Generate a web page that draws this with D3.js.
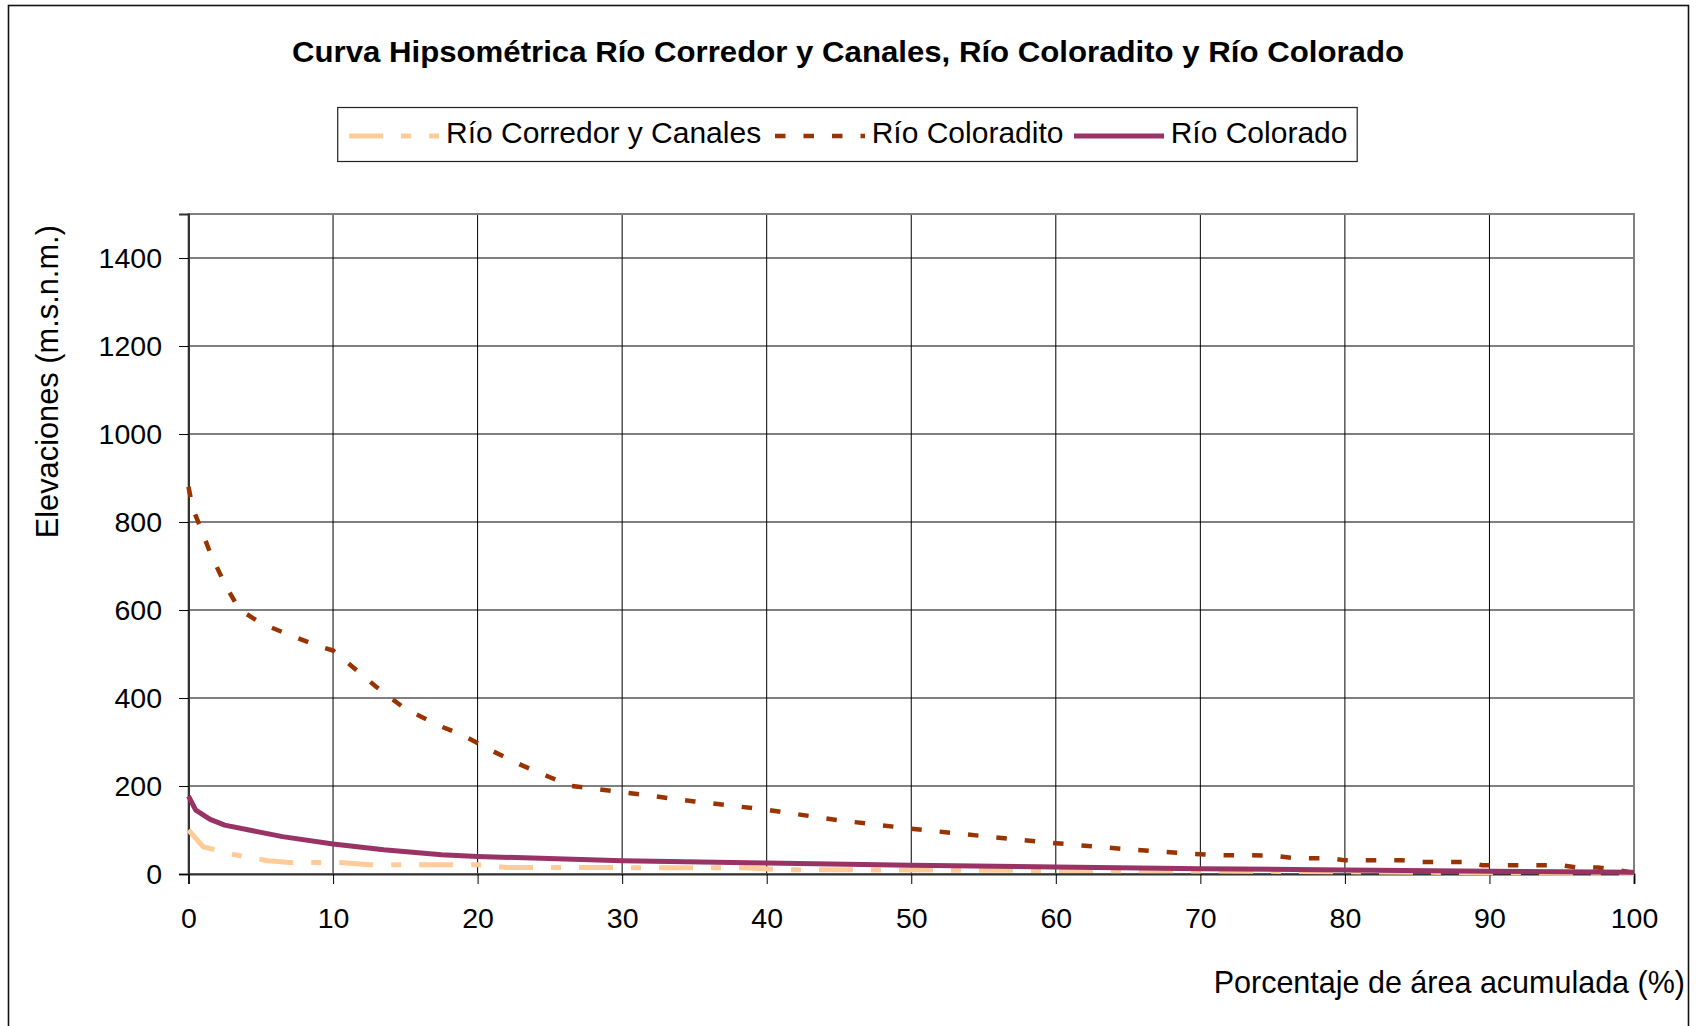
<!DOCTYPE html>
<html>
<head>
<meta charset="utf-8">
<script src="https://cdn.jsdelivr.net/npm/d3@7"></script>
<style>
  html, body { margin: 0; padding: 0; background: #fff; }
  svg { display: block; font-family: "Liberation Sans", Arial, sans-serif; }
</style>
</head>
<body>
<svg id="chart" width="1696" height="1026"></svg>
<script>
// ---------------- data ----------------
const chartTitle = "Curva Hipsométrica Río Corredor y Canales, Río Coloradito y Río Colorado";
const xAxisTitle = "Porcentaje de área acumulada (%)";
const yAxisTitle = "Elevaciones (m.s.n.m.)";
const seriesNames = ["Río Corredor y Canales", "Río Coloradito", "Río Colorado"];

const xTicks = [0, 10, 20, 30, 40, 50, 60, 70, 80, 90, 100];
const yTicks = [0, 200, 400, 600, 800, 1000, 1200, 1400];

const corredorPct  = [0, 1, 3, 5.5, 7, 10.5, 12.5, 20, 22, 38.5, 41, 50, 60, 70, 80, 90, 100];
const corredorElev = [100, 62, 45, 30, 26, 26, 21, 21, 15, 14, 10, 9, 8, 7, 5, 3, 1];

const coloraditoPct  = [0, 0.3, 0.8, 1.5, 2.5, 3.5, 5, 7, 9, 10, 13, 15, 17.5, 19, 21, 23, 25, 26.5, 30, 35, 40, 45, 50, 55, 60, 65, 69, 71, 75, 76.5, 79, 80, 84, 85, 88.5, 89.5, 95, 96, 97.5, 100];
const coloraditoElev = [880, 830, 790, 730, 660, 602, 570, 543, 518, 508, 425, 375, 335, 315, 280, 248, 220, 200, 186, 165, 146, 122, 103, 86, 70, 56, 47, 43, 42, 36, 36, 31, 31, 27, 27, 20, 20, 15, 15, 3];

const coloradoPct  = [0, 0.5, 1.5, 2.5, 6.5, 10, 13.5, 17.5, 20, 30, 40, 50, 60, 70, 80, 90, 100];
const coloradoElev = [177, 145, 124, 111, 85, 68, 55, 44, 40, 30, 25, 20, 16, 12, 9, 6, 4];

// ---------------- styles ----------------
const seriesColors = ["#FFCC99", "#993300", "#993366"];
const seriesDash   = ["34,18,10,18", "10.5,18", null];
const seriesWidth  = [5, 4.5, 5];

// ---------------- layout ----------------
const svg = d3.select("#chart");
const plot = { left: 188.5, right: 1634, top: 214, bottom: 874 };

const x = d3.scaleLinear().domain([0, 100]).range([plot.left, plot.right]);
const y = d3.scaleLinear().domain([0, 1500]).range([plot.bottom, plot.top]);

svg.append("rect").attr("x", 0).attr("y", 0).attr("width", 1696).attr("height", 1026).attr("fill", "#fff");

// outer chart border
svg.append("rect")
  .attr("x", 8.5).attr("y", 5.5).attr("width", 1680).attr("height", 1100)
  .attr("fill", "none").attr("stroke", "#111").attr("stroke-width", 1.6);

// title
svg.append("text")
  .attr("x", 848).attr("y", 61.7)
  .attr("text-anchor", "middle")
  .attr("font-weight", "bold").attr("font-size", 29)
  .attr("textLength", 1112).attr("lengthAdjust", "spacingAndGlyphs")
  .text(chartTitle);

// gridlines
svg.append("g").selectAll("line").data(yTicks.filter(d => d > 0)).join("line")
  .attr("x1", plot.left).attr("x2", plot.right)
  .attr("y1", d => y(d)).attr("y2", d => y(d))
  .attr("stroke", "#000").attr("stroke-width", 1);
svg.append("g").selectAll("line").data(xTicks.filter(d => d > 0 && d < 100)).join("line")
  .attr("y1", plot.top).attr("y2", plot.bottom)
  .attr("x1", d => x(d)).attr("x2", d => x(d))
  .attr("stroke", "#000").attr("stroke-width", 1);

// plot area border
svg.append("rect")
  .attr("x", plot.left).attr("y", plot.top)
  .attr("width", plot.right - plot.left).attr("height", plot.bottom - plot.top)
  .attr("fill", "none").attr("stroke", "#808080").attr("stroke-width", 2);

// axes
const yAxis = d3.axisLeft(y).tickValues(yTicks).tickSize(9.5).tickPadding(17).tickFormat(d3.format("d"));
const gy = svg.append("g").attr("transform", `translate(${plot.left},0)`).call(yAxis);
gy.select(".domain").attr("stroke", "#333").attr("stroke-width", 2);
gy.selectAll(".tick line").attr("stroke", "#000").attr("stroke-width", 1);
gy.selectAll(".tick text").attr("font-size", 28.5).attr("fill", "#000")
  .attr("font-family", "'Liberation Sans', Arial, sans-serif");

const xAxis = d3.axisBottom(x).tickValues(xTicks).tickSize(10).tickPadding(24).tickFormat(d3.format("d"));
const gx = svg.append("g").attr("transform", `translate(0,${plot.bottom})`).call(xAxis);
gx.select(".domain").attr("stroke", "#333").attr("stroke-width", 2);
gx.selectAll(".tick line").attr("stroke", "#000").attr("stroke-width", 1);
gx.selectAll(".tick text").attr("font-size", 28.5).attr("fill", "#000")
  .attr("font-family", "'Liberation Sans', Arial, sans-serif");

// axis titles
svg.append("text")
  .attr("transform", "translate(58.3,381.7) rotate(-90)")
  .attr("text-anchor", "middle").attr("font-size", 30.8)
  .text(yAxisTitle);
svg.append("text")
  .attr("x", 1685).attr("y", 993)
  .attr("text-anchor", "end").attr("font-size", 30.5)
  .text(xAxisTitle);

// series
const series = [
  corredorPct.map((p, i) => [p, corredorElev[i]]),
  coloraditoPct.map((p, i) => [p, coloraditoElev[i]]),
  coloradoPct.map((p, i) => [p, coloradoElev[i]])
];
const line = d3.line().x(d => x(d[0])).y(d => y(d[1]));
svg.append("defs").append("clipPath").attr("id", "clip")
  .append("rect").attr("x", plot.left - 3).attr("y", plot.top).attr("width", plot.right - plot.left + 6).attr("height", plot.bottom - plot.top + 3);
svg.append("g").attr("clip-path", "url(#clip)")
  .selectAll("path").data(series).join("path")
  .attr("d", line)
  .attr("fill", "none")
  .attr("stroke", (d, i) => seriesColors[i])
  .attr("stroke-width", (d, i) => seriesWidth[i])
  .attr("stroke-dasharray", (d, i) => seriesDash[i])
  .attr("stroke-linejoin", "round")
  .attr("stroke-linecap", "butt");

// legend
svg.append("rect")
  .attr("x", 337.7).attr("y", 107.5).attr("width", 1019.5).attr("height", 54)
  .attr("fill", "#fff").attr("stroke", "#222").attr("stroke-width", 1.2);
const legendSampleX = [349, 775, 1074];
const legendTextX = [446, 871.7, 1170.7];
const lg = svg.append("g").selectAll("g").data(seriesNames).join("g");
lg.append("line")
  .attr("x1", (d, i) => legendSampleX[i]).attr("x2", (d, i) => legendSampleX[i] + 90)
  .attr("y1", 136).attr("y2", 136)
  .attr("stroke", (d, i) => seriesColors[i])
  .attr("stroke-width", (d, i) => seriesWidth[i])
  .attr("stroke-dasharray", (d, i) => seriesDash[i]);
lg.append("text")
  .attr("x", (d, i) => legendTextX[i]).attr("y", 143.3)
  .attr("font-size", 30)
  .text(d => d);
</script>
</body>
</html>
